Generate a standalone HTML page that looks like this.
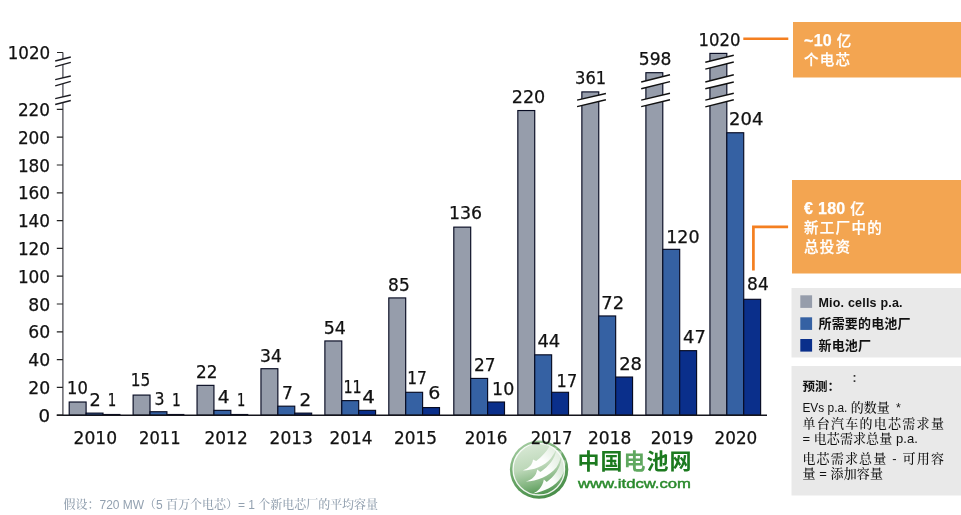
<!DOCTYPE html>
<html lang="zh"><head><meta charset="utf-8"><title>chart</title>
<style>
html,body{margin:0;padding:0;background:#fff}
body{width:961px;height:515px;position:relative;overflow:hidden;font-family:"Liberation Sans","Noto Sans CJK SC",sans-serif}
</style></head><body>
<svg width="961" height="515" viewBox="0 0 961 515" style="position:absolute;left:0;top:0">
<rect x="793" y="22" width="168" height="55.5" fill="#f3a551"/>
<rect x="792" y="180" width="169" height="93.5" fill="#f3a551"/>
<rect x="791.5" y="288" width="169.5" height="69.5" fill="#e9e9e9"/>
<rect x="791.5" y="366" width="169.5" height="129.5" fill="#e9e9e9"/>
<path d="M743.3 38.75H788.3" stroke="#f47f20" stroke-width="2.6" fill="none"/>
<path d="M753.4 270.5V226.9H788.1" stroke="#f47f20" stroke-width="2.7" fill="none"/>
<rect x="69.20" y="402.02" width="16.90" height="13.18" fill="#969dab" stroke="#070b22" stroke-width="1.15"/>
<rect x="86.10" y="413.12" width="16.90" height="2.08" fill="#3561a3" stroke="#070b22" stroke-width="1.15"/>
<rect x="103.00" y="414.51" width="16.90" height="0.69" fill="#0a2f8b" stroke="#070b22" stroke-width="1.15"/>
<rect x="133.12" y="395.08" width="16.90" height="20.12" fill="#969dab" stroke="#070b22" stroke-width="1.15"/>
<rect x="150.02" y="411.74" width="16.90" height="3.46" fill="#3561a3" stroke="#070b22" stroke-width="1.15"/>
<rect x="166.92" y="414.51" width="16.90" height="0.69" fill="#0a2f8b" stroke="#070b22" stroke-width="1.15"/>
<rect x="197.04" y="385.36" width="16.90" height="29.84" fill="#969dab" stroke="#070b22" stroke-width="1.15"/>
<rect x="213.94" y="410.35" width="16.90" height="4.85" fill="#3561a3" stroke="#070b22" stroke-width="1.15"/>
<rect x="230.84" y="414.51" width="16.90" height="0.69" fill="#0a2f8b" stroke="#070b22" stroke-width="1.15"/>
<rect x="260.96" y="368.71" width="16.90" height="46.49" fill="#969dab" stroke="#070b22" stroke-width="1.15"/>
<rect x="277.86" y="406.18" width="16.90" height="9.02" fill="#3561a3" stroke="#070b22" stroke-width="1.15"/>
<rect x="294.76" y="413.12" width="16.90" height="2.08" fill="#0a2f8b" stroke="#070b22" stroke-width="1.15"/>
<rect x="324.88" y="340.95" width="16.90" height="74.25" fill="#969dab" stroke="#070b22" stroke-width="1.15"/>
<rect x="341.78" y="400.63" width="16.90" height="14.57" fill="#3561a3" stroke="#070b22" stroke-width="1.15"/>
<rect x="358.68" y="410.35" width="16.90" height="4.85" fill="#0a2f8b" stroke="#070b22" stroke-width="1.15"/>
<rect x="388.80" y="297.92" width="16.90" height="117.28" fill="#969dab" stroke="#070b22" stroke-width="1.15"/>
<rect x="405.70" y="392.30" width="16.90" height="22.90" fill="#3561a3" stroke="#070b22" stroke-width="1.15"/>
<rect x="422.60" y="407.57" width="16.90" height="7.63" fill="#0a2f8b" stroke="#070b22" stroke-width="1.15"/>
<rect x="453.80" y="227.13" width="16.90" height="188.07" fill="#969dab" stroke="#070b22" stroke-width="1.15"/>
<rect x="470.70" y="378.42" width="16.90" height="36.78" fill="#3561a3" stroke="#070b22" stroke-width="1.15"/>
<rect x="487.60" y="402.02" width="16.90" height="13.18" fill="#0a2f8b" stroke="#070b22" stroke-width="1.15"/>
<rect x="517.83" y="110.54" width="16.90" height="304.66" fill="#969dab" stroke="#070b22" stroke-width="1.15"/>
<rect x="534.73" y="354.83" width="16.90" height="60.37" fill="#3561a3" stroke="#070b22" stroke-width="1.15"/>
<rect x="551.63" y="392.30" width="16.90" height="22.90" fill="#0a2f8b" stroke="#070b22" stroke-width="1.15"/>
<rect x="581.86" y="91.90" width="16.90" height="323.30" fill="#969dab" stroke="#070b22" stroke-width="1.15"/>
<rect x="598.76" y="315.96" width="16.90" height="99.24" fill="#3561a3" stroke="#070b22" stroke-width="1.15"/>
<rect x="615.66" y="377.04" width="16.90" height="38.16" fill="#0a2f8b" stroke="#070b22" stroke-width="1.15"/>
<rect x="645.89" y="72.70" width="16.90" height="342.50" fill="#969dab" stroke="#070b22" stroke-width="1.15"/>
<rect x="662.79" y="249.34" width="16.90" height="165.86" fill="#3561a3" stroke="#070b22" stroke-width="1.15"/>
<rect x="679.69" y="350.66" width="16.90" height="64.54" fill="#0a2f8b" stroke="#070b22" stroke-width="1.15"/>
<rect x="709.92" y="53.40" width="16.90" height="361.80" fill="#969dab" stroke="#070b22" stroke-width="1.15"/>
<rect x="726.82" y="132.75" width="16.90" height="282.45" fill="#3561a3" stroke="#070b22" stroke-width="1.15"/>
<rect x="743.72" y="299.31" width="16.90" height="115.89" fill="#0a2f8b" stroke="#070b22" stroke-width="1.15"/>
<path d="M577.1 100.1L605.9 93.5L605.9 99.7L577.1 106.6Z" fill="#fff"/>
<path d="M577.1 100.1L605.9 93.5M577.1 106.6L605.9 99.7" stroke="#111" stroke-width="1.4" fill="none"/>
<path d="M641.2 82L670 74.8L670 81.6L641.2 88.8Z" fill="#fff"/>
<path d="M641.2 82L670 74.8M641.2 88.8L670 81.6" stroke="#111" stroke-width="1.4" fill="none"/>
<path d="M641.2 100.1L670 93.3L670 99.7L641.2 106.6Z" fill="#fff"/>
<path d="M641.2 100.1L670 93.3M641.2 106.6L670 99.7" stroke="#111" stroke-width="1.4" fill="none"/>
<path d="M705.3 62.3L733.8 55.3L733.8 62L705.3 69.1Z" fill="#fff"/>
<path d="M705.3 62.3L733.8 55.3M705.3 69.1L733.8 62" stroke="#111" stroke-width="1.4" fill="none"/>
<path d="M705.3 82L733.8 74.8L733.8 82L705.3 88.8Z" fill="#fff"/>
<path d="M705.3 82L733.8 74.8M705.3 88.8L733.8 82" stroke="#111" stroke-width="1.4" fill="none"/>
<path d="M705.3 100.1L733.8 93.3L733.8 99.7L705.3 106.9Z" fill="#fff"/>
<path d="M705.3 100.1L733.8 93.3M705.3 106.9L733.8 99.7" stroke="#111" stroke-width="1.4" fill="none"/>
<path d="M62.9 52.5V415.2" stroke="#4d4d55" stroke-width="1.3" fill="none"/>
<path d="M56.8 415.2H767" stroke="#15151c" stroke-width="1.4" fill="none"/>
<path d="M56.8 415.20H62.9M56.8 387.40H62.9M56.8 359.60H62.9M56.8 331.80H62.9M56.8 304.00H62.9M56.8 276.20H62.9M56.8 248.40H62.9M56.8 220.60H62.9M56.8 192.80H62.9M56.8 165.00H62.9M56.8 137.20H62.9M56.8 109.40H62.9M57 52.5H62.9" stroke="#222" stroke-width="1.2" fill="none"/>
<path d="M55.2 61L70.8 57L70.8 62.4L55.2 66.7Z" fill="#fff"/>
<path d="M55.2 61L70.8 57M55.2 66.7L70.8 62.4" stroke="#1c1c22" stroke-width="1.35" fill="none"/>
<path d="M55.2 79.7L70.8 76L70.8 81.4L55.2 85.8Z" fill="#fff"/>
<path d="M55.2 79.7L70.8 76M55.2 85.8L70.8 81.4" stroke="#1c1c22" stroke-width="1.35" fill="none"/>
<path d="M55.2 98.7L70.8 95L70.8 100.5L55.2 104.5Z" fill="#fff"/>
<path d="M55.2 98.7L70.8 95M55.2 104.5L70.8 100.5" stroke="#1c1c22" stroke-width="1.35" fill="none"/>
<defs><linearGradient id="gring" x1="0.2" y1="0" x2="0.7" y2="1"><stop offset="0" stop-color="#a9cfa6"/><stop offset="0.45" stop-color="#6aa668"/><stop offset="1" stop-color="#478d48"/></linearGradient><linearGradient id="gdisc" x1="0.3" y1="0" x2="0.55" y2="1"><stop offset="0" stop-color="#d9e9d6"/><stop offset="0.45" stop-color="#bdd8b9"/><stop offset="0.75" stop-color="#86b783"/><stop offset="1" stop-color="#4f9550"/></linearGradient><linearGradient id="gsw" x1="0" y1="1" x2="1" y2="0"><stop offset="0" stop-color="#fff" stop-opacity="1"/><stop offset="0.5" stop-color="#fff" stop-opacity="0.97"/><stop offset="1" stop-color="#fff" stop-opacity="0.4"/></linearGradient></defs>
<g transform="translate(505 435) scale(0.1321)">
<circle cx="258" cy="262" r="221" fill="url(#gring)"/>
<circle cx="256" cy="259" r="195" fill="url(#gdisc)" stroke="#fff" stroke-width="10" stroke-opacity="0.9"/>
<path d="M135 268 C215 268 300 236 348 176 C370 144 384 120 392 98 L338 84 C315 128 278 166 236 196 L212 186 C208 228 178 254 135 268Z" fill="url(#gsw)"/>
<path d="M158 352 C240 350 335 314 390 244 C414 208 424 168 430 125 L388 112 C380 180 330 238 268 280 L244 262 C236 312 204 340 158 352Z" fill="url(#gsw)"/>
<path d="M212 442 C290 430 382 392 430 312 C450 274 457 236 460 195 L426 182 C420 250 372 316 316 356 L294 336 C284 392 252 425 212 442Z" fill="url(#gsw)"/>
</g>
<g font-family="DejaVu Sans, Liberation Sans, sans-serif" stroke="#111" stroke-width="0.25">
<text x="44.3" y="421.8" text-anchor="middle" textLength="11.6" lengthAdjust="spacingAndGlyphs" font-size="17.0" fill="#111">0</text>
<text x="39.2" y="394.0" text-anchor="middle" textLength="21.9" lengthAdjust="spacingAndGlyphs" font-size="17.0" fill="#111">20</text>
<text x="39.2" y="366.2" text-anchor="middle" textLength="21.9" lengthAdjust="spacingAndGlyphs" font-size="17.0" fill="#111">40</text>
<text x="39.2" y="338.4" text-anchor="middle" textLength="21.9" lengthAdjust="spacingAndGlyphs" font-size="17.0" fill="#111">60</text>
<text x="39.2" y="310.6" text-anchor="middle" textLength="21.9" lengthAdjust="spacingAndGlyphs" font-size="17.0" fill="#111">80</text>
<text x="34.0" y="282.8" text-anchor="middle" textLength="32.2" lengthAdjust="spacingAndGlyphs" font-size="17.0" fill="#111">100</text>
<text x="34.0" y="255.0" text-anchor="middle" textLength="32.2" lengthAdjust="spacingAndGlyphs" font-size="17.0" fill="#111">120</text>
<text x="34.0" y="227.2" text-anchor="middle" textLength="32.2" lengthAdjust="spacingAndGlyphs" font-size="17.0" fill="#111">140</text>
<text x="34.0" y="199.4" text-anchor="middle" textLength="32.2" lengthAdjust="spacingAndGlyphs" font-size="17.0" fill="#111">160</text>
<text x="34.0" y="171.6" text-anchor="middle" textLength="32.2" lengthAdjust="spacingAndGlyphs" font-size="17.0" fill="#111">180</text>
<text x="34.0" y="143.8" text-anchor="middle" textLength="32.2" lengthAdjust="spacingAndGlyphs" font-size="17.0" fill="#111">200</text>
<text x="34.0" y="116.0" text-anchor="middle" textLength="32.2" lengthAdjust="spacingAndGlyphs" font-size="17.0" fill="#111">220</text>
<text x="28.9" y="59.1" text-anchor="middle" textLength="42.5" lengthAdjust="spacingAndGlyphs" font-size="17.0" fill="#111">1020</text>
<text x="95.3" y="443.9" text-anchor="middle" textLength="43.5" lengthAdjust="spacingAndGlyphs" font-size="17.0" fill="#111">2010</text>
<text x="159.8" y="443.9" text-anchor="middle" textLength="41.5" lengthAdjust="spacingAndGlyphs" font-size="17.0" fill="#111">2011</text>
<text x="226.1" y="443.9" text-anchor="middle" textLength="43.2" lengthAdjust="spacingAndGlyphs" font-size="17.0" fill="#111">2012</text>
<text x="291.2" y="443.9" text-anchor="middle" textLength="43.2" lengthAdjust="spacingAndGlyphs" font-size="17.0" fill="#111">2013</text>
<text x="351.0" y="443.9" text-anchor="middle" textLength="43.0" lengthAdjust="spacingAndGlyphs" font-size="17.0" fill="#111">2014</text>
<text x="415.5" y="443.9" text-anchor="middle" textLength="43.0" lengthAdjust="spacingAndGlyphs" font-size="17.0" fill="#111">2015</text>
<text x="486.1" y="443.9" text-anchor="middle" textLength="42.7" lengthAdjust="spacingAndGlyphs" font-size="17.0" fill="#111">2016</text>
<text x="551.5" y="443.9" text-anchor="middle" textLength="41.7" lengthAdjust="spacingAndGlyphs" font-size="17.0" fill="#111">2017</text>
<text x="609.7" y="443.9" text-anchor="middle" textLength="43.4" lengthAdjust="spacingAndGlyphs" font-size="17.0" fill="#111">2018</text>
<text x="672.0" y="443.9" text-anchor="middle" textLength="42.7" lengthAdjust="spacingAndGlyphs" font-size="17.0" fill="#111">2019</text>
<text x="735.9" y="443.9" text-anchor="middle" textLength="42.8" lengthAdjust="spacingAndGlyphs" font-size="17.0" fill="#111">2020</text>
<text x="77.5" y="394.4" text-anchor="middle" textLength="20.8" lengthAdjust="spacingAndGlyphs" font-size="17.0" fill="#111">10</text>
<text x="95.2" y="405.7" text-anchor="middle" textLength="11.3" lengthAdjust="spacingAndGlyphs" font-size="17.0" fill="#111">2</text>
<text x="112.1" y="405.9" text-anchor="middle" textLength="8.5" lengthAdjust="spacingAndGlyphs" font-size="17.0" fill="#111">1</text>
<text x="140.6" y="386.2" text-anchor="middle" textLength="19.5" lengthAdjust="spacingAndGlyphs" font-size="17.0" fill="#111">15</text>
<text x="159.5" y="404.9" text-anchor="middle" textLength="10.0" lengthAdjust="spacingAndGlyphs" font-size="17.0" fill="#111">3</text>
<text x="176.4" y="406.2" text-anchor="middle" textLength="8.8" lengthAdjust="spacingAndGlyphs" font-size="17.0" fill="#111">1</text>
<text x="206.8" y="377.5" text-anchor="middle" textLength="21.5" lengthAdjust="spacingAndGlyphs" font-size="17.0" fill="#111">22</text>
<text x="223.6" y="402.9" text-anchor="middle" textLength="11.8" lengthAdjust="spacingAndGlyphs" font-size="17.0" fill="#111">4</text>
<text x="241.1" y="406.2" text-anchor="middle" textLength="8.3" lengthAdjust="spacingAndGlyphs" font-size="17.0" fill="#111">1</text>
<text x="271.0" y="361.7" text-anchor="middle" textLength="21.8" lengthAdjust="spacingAndGlyphs" font-size="17.0" fill="#111">34</text>
<text x="287.4" y="398.9" text-anchor="middle" textLength="10.9" lengthAdjust="spacingAndGlyphs" font-size="17.0" fill="#111">7</text>
<text x="305.4" y="405.8" text-anchor="middle" textLength="11.7" lengthAdjust="spacingAndGlyphs" font-size="17.0" fill="#111">2</text>
<text x="334.8" y="334.2" text-anchor="middle" textLength="22.2" lengthAdjust="spacingAndGlyphs" font-size="17.0" fill="#111">54</text>
<text x="352.6" y="393.0" text-anchor="middle" textLength="18.3" lengthAdjust="spacingAndGlyphs" font-size="17.0" fill="#111">11</text>
<text x="368.6" y="402.5" text-anchor="middle" textLength="12.7" lengthAdjust="spacingAndGlyphs" font-size="17.0" fill="#111">4</text>
<text x="398.9" y="291.3" text-anchor="middle" textLength="21.6" lengthAdjust="spacingAndGlyphs" font-size="17.0" fill="#111">85</text>
<text x="417.0" y="383.7" text-anchor="middle" textLength="19.6" lengthAdjust="spacingAndGlyphs" font-size="17.0" fill="#111">17</text>
<text x="434.4" y="398.6" text-anchor="middle" textLength="12.1" lengthAdjust="spacingAndGlyphs" font-size="17.0" fill="#111">6</text>
<text x="465.5" y="219.0" text-anchor="middle" textLength="33.1" lengthAdjust="spacingAndGlyphs" font-size="17.0" fill="#111">136</text>
<text x="484.7" y="371.2" text-anchor="middle" textLength="21.6" lengthAdjust="spacingAndGlyphs" font-size="17.0" fill="#111">27</text>
<text x="503.2" y="395.3" text-anchor="middle" textLength="22.2" lengthAdjust="spacingAndGlyphs" font-size="17.0" fill="#111">10</text>
<text x="528.5" y="103.1" text-anchor="middle" textLength="33.5" lengthAdjust="spacingAndGlyphs" font-size="17.0" fill="#111">220</text>
<text x="548.8" y="347.3" text-anchor="middle" textLength="22.8" lengthAdjust="spacingAndGlyphs" font-size="17.0" fill="#111">44</text>
<text x="566.9" y="386.6" text-anchor="middle" textLength="20.6" lengthAdjust="spacingAndGlyphs" font-size="17.0" fill="#111">17</text>
<text x="590.6" y="83.5" text-anchor="middle" textLength="31.1" lengthAdjust="spacingAndGlyphs" font-size="17.0" fill="#111">361</text>
<text x="612.7" y="309.3" text-anchor="middle" textLength="22.8" lengthAdjust="spacingAndGlyphs" font-size="17.0" fill="#111">72</text>
<text x="630.6" y="369.7" text-anchor="middle" textLength="22.8" lengthAdjust="spacingAndGlyphs" font-size="17.0" fill="#111">28</text>
<text x="655.1" y="65.4" text-anchor="middle" textLength="32.6" lengthAdjust="spacingAndGlyphs" font-size="17.0" fill="#111">598</text>
<text x="682.9" y="242.6" text-anchor="middle" textLength="33.3" lengthAdjust="spacingAndGlyphs" font-size="17.0" fill="#111">120</text>
<text x="694.4" y="342.8" text-anchor="middle" textLength="22.8" lengthAdjust="spacingAndGlyphs" font-size="17.0" fill="#111">47</text>
<text x="719.4" y="45.6" text-anchor="middle" textLength="42.0" lengthAdjust="spacingAndGlyphs" font-size="17.0" fill="#111">1020</text>
<text x="746.2" y="124.7" text-anchor="middle" textLength="34.3" lengthAdjust="spacingAndGlyphs" font-size="17.0" fill="#111">204</text>
<text x="757.9" y="290.3" text-anchor="middle" textLength="21.6" lengthAdjust="spacingAndGlyphs" font-size="17.0" fill="#111">84</text>
</g>
<text x="804" y="46.1" font-size="14.5" font-weight="500" letter-spacing="1.3" font-family="Liberation Sans, Noto Sans CJK SC, sans-serif" fill="#fff" stroke="#fff" stroke-width="0.25"><tspan font-size="16" font-weight="700" letter-spacing="0.3">~10 </tspan>亿</text>
<text x="804" y="65" font-size="14.5" font-weight="500" letter-spacing="1.3" font-family="Liberation Sans, Noto Sans CJK SC, sans-serif" fill="#fff" stroke="#fff" stroke-width="0.25">个电芯</text>
<text x="804" y="213.5" font-size="14.5" font-weight="500" letter-spacing="1.3" font-family="Liberation Sans, Noto Sans CJK SC, sans-serif" fill="#fff" stroke="#fff" stroke-width="0.25"><tspan font-size="16" font-weight="700" letter-spacing="0.3">€ 180 </tspan>亿</text>
<text x="804" y="233" font-size="14.5" font-weight="500" letter-spacing="1.3" font-family="Liberation Sans, Noto Sans CJK SC, sans-serif" fill="#fff" stroke="#fff" stroke-width="0.25">新工厂中的</text>
<text x="804" y="252.4" font-size="14.5" font-weight="500" letter-spacing="1.3" font-family="Liberation Sans, Noto Sans CJK SC, sans-serif" fill="#fff" stroke="#fff" stroke-width="0.25">总投资</text>
<rect x="800.3" y="295.3" width="11.8" height="12.6" fill="#969dab"/>
<rect x="800.3" y="317.3" width="11.8" height="12.6" fill="#3561a3"/>
<rect x="800.3" y="339" width="11.8" height="12.6" fill="#0a2f8b"/>
<text x="818.5" y="306.8" font-size="12.5" font-family="Liberation Sans, Noto Sans CJK SC, sans-serif" fill="#111" font-weight="700" textLength="84" lengthAdjust="spacing" >Mio. cells p.a.</text>
<text x="818.5" y="328.4" font-size="13" font-family="Liberation Sans, Noto Sans CJK SC, sans-serif" fill="#111" font-weight="700" textLength="92" lengthAdjust="spacing" >所需要的电池厂</text>
<text x="818.5" y="350.2" font-size="13" font-family="Liberation Sans, Noto Sans CJK SC, sans-serif" fill="#111" font-weight="700" textLength="52.5" lengthAdjust="spacing" >新电池厂</text>
<text x="802.4" y="391.3" font-size="12.5" font-family="Liberation Sans, Noto Sans CJK SC, sans-serif" fill="#111" font-weight="700" >预测：</text>
<text x="852.6" y="382" font-size="12" font-family="Liberation Sans, Noto Sans CJK SC, sans-serif" fill="#333" font-weight="700" >:</text>
<text x="802.4" y="411.5" font-size="12.3" font-weight="500" font-family="Liberation Sans, Noto Serif CJK SC, serif" fill="#111" textLength="45" lengthAdjust="spacingAndGlyphs">EVs p.a.</text>
<text x="850.8" y="411.5" font-size="13" font-weight="500" font-family="Liberation Sans, Noto Serif CJK SC, serif" fill="#111" >的数量</text>
<text x="896" y="411.5" font-size="12.3" font-weight="500" font-family="Liberation Sans, Noto Serif CJK SC, serif" fill="#111" >*</text>
<text x="802.4" y="427.8" font-size="13" font-weight="500" font-family="Liberation Sans, Noto Serif CJK SC, serif" fill="#111" textLength="141.5" lengthAdjust="spacing" >单台汽车的电芯需求量</text>
<text x="802.4" y="443" font-size="13" font-weight="500" font-family="Liberation Sans, Noto Serif CJK SC, serif" fill="#111" textLength="115.5" lengthAdjust="spacing" >= 电芯需求总量 p.a.</text>
<text x="802.4" y="462.6" font-size="13" font-weight="500" font-family="Liberation Sans, Noto Serif CJK SC, serif" fill="#111" textLength="141.5" lengthAdjust="spacing" >电芯需求总量 - 可用容</text>
<text x="802.4" y="478.1" font-size="13" font-weight="500" font-family="Liberation Sans, Noto Serif CJK SC, serif" fill="#111" textLength="80.5" lengthAdjust="spacing" >量 = 添加容量</text>
<text x="63.6" y="509.2" font-size="12" font-weight="500" font-family="Liberation Sans, Noto Serif CJK SC, serif" fill="#93a1b0" textLength="314.5" lengthAdjust="spacing" >假设：720 MW（5 百万个电芯）= 1 个新电芯厂的平均容量</text>
<text x="577.5" y="469.0" font-size="22" font-family="Liberation Sans, Noto Sans CJK SC, sans-serif" fill="#1c7a1f" font-weight="700" textLength="114" lengthAdjust="spacing" >中国<tspan fill="#5fa85f">电</tspan>池网</text>
<text x="578" y="487.5" font-size="13" font-family="Liberation Sans, Noto Sans CJK SC, sans-serif" fill="#2a8a2c" textLength="113" lengthAdjust="spacingAndGlyphs" stroke="#2a8a2c" stroke-width="0.45">www.itdcw.com</text>
</svg>
</body></html>
